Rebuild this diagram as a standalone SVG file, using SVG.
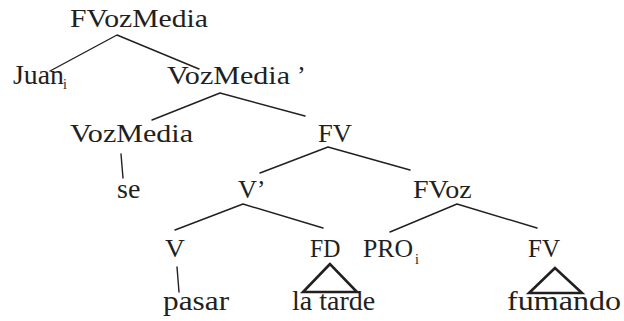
<svg xmlns="http://www.w3.org/2000/svg" width="624" height="321" viewBox="0 0 624 321">
  <style>
    .edge { stroke: #231f20; stroke-width: 1.4; fill: none; stroke-linecap: round; }
    .tri { stroke: #231f20; stroke-width: 2.6; fill: none; }
    .lbl { font-family: "Liberation Serif", "Times New Roman", serif; fill: #231f20; }
  </style>
  <rect width="624" height="321" fill="#ffffff"/>

  <!-- branches -->
  <g id="connectors">
    <path class="edge" d="M117,35 L50,71 M117,35 L199,69"/>
    <path class="edge" d="M220,93 L152,120 M220,93 L305,116"/>
    <path class="edge" d="M121,154 L123,178"/>
    <path class="edge" d="M328,147 L260,173 M328,147 L410,170"/>
    <path class="edge" d="M243,204 L175,230 M243,204 L323,228"/>
    <path class="edge" d="M457,204 L390,232 M457,204 L537,228"/>
    <path class="edge" d="M177,267 L179,292"/>
    <polygon class="tri" points="330,264 303,292 357,292"/>
    <polygon class="tri" points="555,268 529,293 582,293"/>
  </g>

  <!-- node labels (serif widened toward the book face's proportions) -->
  <g class="lbl" font-size="25">
    <g id="n-fvozmedia"><text transform="translate(70,27) scale(1.143,1)" font-size="26">FVozMedia</text></g>
    <g id="n-juan"><text transform="translate(13,84) scale(1.03,1)" font-size="27">Juan</text><text x="63" y="89" font-size="14">i</text></g>
    <g id="n-vozmedia-bar"><text transform="translate(167,84) scale(1.157,1)" font-size="26">VozMedia</text><text x="297" y="84" font-size="26">’</text></g>
    <g id="n-vozmedia"><text transform="translate(70,142) scale(1.157,1)" font-size="26">VozMedia</text></g>
    <g id="n-fv1"><text transform="translate(318,142) scale(1.06,1)">FV</text></g>
    <g id="n-se"><text x="117" y="198" font-size="28">se</text></g>
    <g id="n-vbar"><text transform="translate(238,198) scale(1.05,1)">V</text><text x="257" y="198">’</text></g>
    <g id="n-fvoz"><text transform="translate(413,198) scale(1.12,1)">FVoz</text></g>
    <g id="n-v"><text transform="translate(165,257) scale(1.1,1)">V</text></g>
    <g id="n-fd"><text transform="translate(310,257) scale(0.95,1)">FD</text></g>
    <g id="n-pro"><text transform="translate(363,257) scale(1.03,1)">PRO</text><text x="415" y="264" font-size="14">i</text></g>
    <g id="n-fv2"><text x="528" y="257">FV</text></g>
    <g id="n-pasar"><text transform="translate(163,310) scale(1.12,1)" font-size="28">pasar</text></g>
    <g id="n-latarde"><text x="292" y="310" font-size="28">la tarde</text></g>
    <g id="n-fumando"><text transform="translate(507,310) scale(1.146,1)" font-size="28">fumando</text></g>
  </g>
</svg>
